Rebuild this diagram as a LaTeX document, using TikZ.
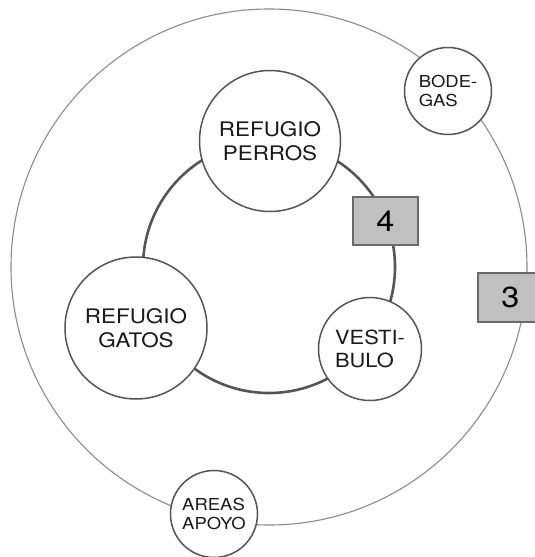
\documentclass[tikz,border=0pt]{standalone}
\usepackage{fontspec}
\setmainfont{TeX Gyre Heros}[FakeStretch=1.12]
\usepackage{xcolor}
\usepackage{tikz}
\usetikzlibrary{positioning}
\definecolor{linegray}{HTML}{555555}
\definecolor{ringgray}{HTML}{8C8C8C}
\definecolor{boxgray}{HTML}{C0C0C0}
\definecolor{boxedge}{HTML}{6A6A6A}
\tikzset
{
  outerring/.style={draw=ringgray,line width=1.1pt},
  innerring/.style={draw=linegray,line width=2.6pt},
  zone/.style={circle,draw=linegray,line width=1.5pt,fill=white,inner sep=0pt,text=black!90},
  bigzone/.style={zone,minimum size=141pt,align=center,font=\fontsize{20}{24.5}\selectfont},
  midzone/.style={zone,minimum size=103pt,align=left,font=\fontsize{19.5}{23}\selectfont},
  smallzone/.style={zone,minimum size=87pt,align=left,font=\fontsize{16.5}{19}\selectfont},
  levelbox/.style={rectangle,draw=boxedge,line width=2pt,fill=boxgray,minimum width=65pt,minimum height=48pt,inner sep=0pt,font=\fontsize{29}{30}\selectfont}
}
\begin{document}
\begin{tikzpicture}[x=1pt,y=-1pt]
        \clip (0,0) rectangle (535,557);
        \fill[white] (0,0) rectangle (535,557);

        % Rings
        \coordinate (centro) at (269,267);
        \draw[outerring] (centro) circle (258);
        \draw[innerring] (centro) circle (126);

        % Inner ring
        \node[bigzone] (perros) at (270,141) {REFUGIO\\PERROS};
        \node[bigzone,minimum size=142pt] (gatos) at (136,328) {REFUGIO\\GATOS};
        \node[midzone] (vestibulo) at (370,349) {VESTI-\\BULO};
        \node[levelbox] (nivel4) at (385.5,221) {4};

        % Outer ring
        \node[smallzone] (bodegas) at (448,91) {BODE-\\GAS};
        \node[smallzone] (apoyo) at (214,514) {AREAS\\APOYO};
        \node[levelbox,minimum height=49pt] (nivel3) at (510.5,297.5) {3};
\end{tikzpicture}
\end{document}
